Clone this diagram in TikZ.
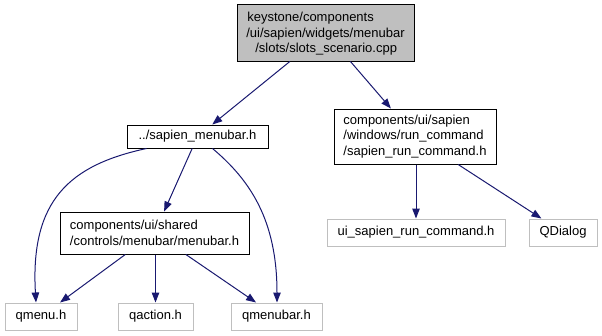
\documentclass[tikz,border=0pt]{standalone}
\usepackage{fontspec}
\setmainfont{Liberation Sans}
\usetikzlibrary{arrows.meta,calc}
\definecolor{edgecol}{HTML}{191970}
\definecolor{grayfill}{HTML}{BFBFBF}
\definecolor{extborder}{HTML}{BFBFBF}
\begin{document}
\begin{tikzpicture}[x=1pt,y=-1pt,
  box/.style={draw=black,line width=1pt,rectangle,inner sep=0pt,fill=white,
    font=\fontsize{13}{15.5}\selectfont},
  mainbox/.style={box,fill=grayfill,align=left},
  extbox/.style={box,draw=extborder},
  dep/.style={draw=edgecol,line width=1pt,-{Triangle[length=10pt,width=7.5pt]},fill=none},
]
\useasboundingbox (0,0) rectangle (602,335);
\node[mainbox,minimum width=177pt,minimum height=57pt,text depth=0pt] (top) at (325.5,32.5)
  {\hspace*{1pt}keystone/components\\/ui/sapien/widgets/menubar\\\hspace*{9pt}/slots/slots\_scenario.cpp};
\node[box,minimum width=141pt,minimum height=23pt] (sapien) at (197.5,136.5) {../sapien\_menubar.h};
\node[box,align=left,minimum width=162pt,minimum height=55pt] (run) at (415,136.5)
  {components/ui/sapien\\/windows/run\_command\\/sapien\_run\_command.h};
\node[box,align=left,minimum width=189pt,minimum height=42pt] (mb) at (154.5,233)
  {components/ui/shared\\/controls/menubar/menubar.h};
\node[extbox,minimum width=72pt,minimum height=27pt] (qmenu) at (41,316.5) {qmenu.h};
\node[extbox,minimum width=75pt,minimum height=27pt] (qaction) at (155.5,316.5) {qaction.h};
\node[extbox,minimum width=91pt,minimum height=27pt] (qmenubar) at (276.5,316.5) {qmenubar.h};
\node[extbox,minimum width=178pt,minimum height=27pt] (ui) at (416,232.5) {ui\_sapien\_run\_command.h};
\node[extbox,minimum width=68pt,minimum height=27pt] (qdialog) at (563,232.5) {QDialog};

\draw[dep] (top) -- (sapien);
\draw[dep] (top) -- (run);
\draw[dep] (sapien) -- (mb);
\draw[dep] ([xshift=20pt]sapien.south west) .. controls (70,165) and (30,200) .. ([xshift=-5pt]qmenu.north);
\draw[dep] ([xshift=-56pt]sapien.south east) .. controls (250,180) and (277,220) .. ([xshift=0.5pt]qmenubar.north);
\draw[dep] (mb) -- (qmenu);
\draw[dep] (mb.south -| qaction.north) -- (qaction);
\draw[dep] (mb) -- (qmenubar);
\draw[dep] (run.south -| ui.north) -- (ui);
\draw[dep] (run) -- (qdialog);
\end{tikzpicture}
\end{document}
